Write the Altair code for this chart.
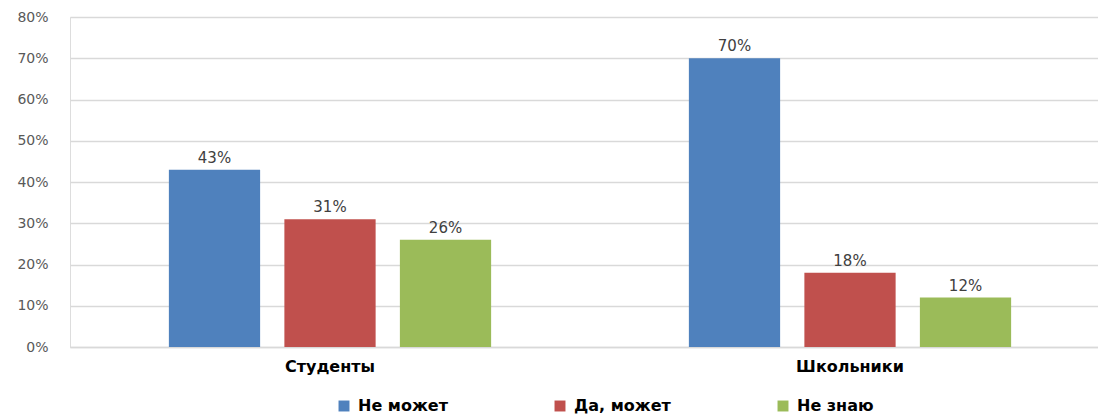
import altair as alt
import pandas as pd

groups = ["Студенты", "Школьники"]
series = ["Не может", "Да, может", "Не знаю"]
values = {
    "Не может": [0.43, 0.70],
    "Да, может": [0.31, 0.18],
    "Не знаю": [0.26, 0.12],
}
colors = ["#4F81BD", "#C0504D", "#9BBB59"]

rows = []
for s in series:
    for g, v in zip(groups, values[s]):
        rows.append({"group": g, "series": s, "value": v, "label": f"{round(v*100)}%"})
df = pd.DataFrame(rows)

FONT = "DejaVu Sans"

x = alt.X("group:N", sort=groups, title=None,
          scale=alt.Scale(range=[0, 1040], paddingInner=0, paddingOuter=0),
          axis=alt.Axis(labelAngle=0, labelFont=FONT, labelFontSize=16, labelFontWeight="bold",
                        labelColor="#000000", labelPadding=11, ticks=False,
                        domainColor="#d9d9d9", domainWidth=1.5))
xo = alt.XOffset("series:N", sort=series,
                 scale=alt.Scale(paddingInner=0.21, paddingOuter=0.856))
y = alt.Y("value:Q", title=None,
          scale=alt.Scale(domain=[0, 0.8]),
          axis=alt.Axis(format=".0%", values=[i / 10 for i in range(9)], labelFont=FONT,
                        labelFontSize=14, labelColor="#595959", labelPadding=22,
                        ticks=False, domain=False, gridColor="#d9d9d9", gridWidth=1.5))

bars = alt.Chart(df).mark_bar().encode(
    x=x, xOffset=xo, y=y,
    color=alt.Color("series:N", sort=series,
                    scale=alt.Scale(domain=series, range=colors),
                    legend=alt.Legend(title=None, orient="none", legendX=266, legendY=381,
                                      direction="horizontal", symbolType="square",
                                      symbolSize=120, symbolStrokeWidth=0,
                                      labelFont=FONT, labelFontSize=16, labelFontWeight="bold",
                                      labelColor="#000000", columnPadding=104, labelOffset=6)),
)

text = alt.Chart(df).mark_text(dy=-12, font=FONT, fontSize=15, color="#404040").encode(
    x=x, xOffset=xo, y=y, text="label:N")

chart = (bars + text).properties(
    width=1028, height=330,
    autosize=alt.AutoSizeParams(type="none"),
    padding={"left": 70, "top": 17, "right": 0, "bottom": 67},
).configure_view(stroke=None).configure(background="white")

chart.save("out.html", embed_options={"renderer": "svg", "actions": False})
